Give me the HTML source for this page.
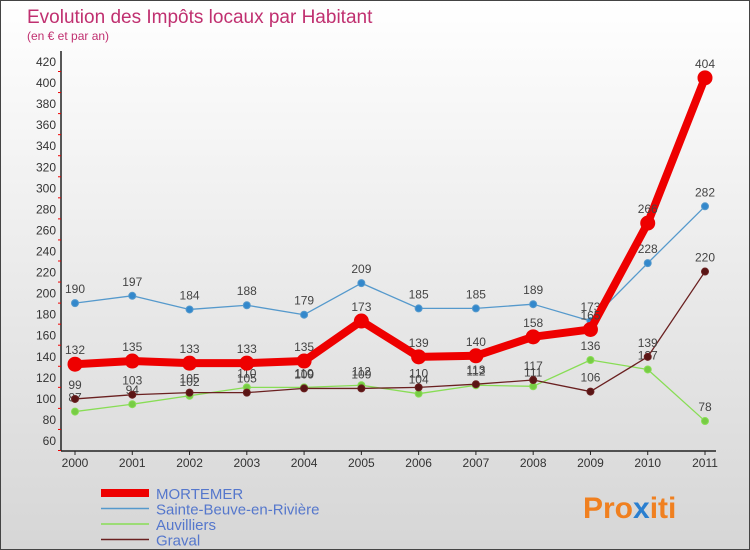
<!DOCTYPE html>
<html><head><meta charset="utf-8"><style>
body{margin:0}
#c{width:748px;height:548px;border:1px solid #444;background:linear-gradient(#fff,#d6d6d6);position:relative;font-family:"Liberation Sans",sans-serif;overflow:hidden}
</style></head><body>
<div id="c">
<svg width="748" height="548" id="s" style="position:absolute;left:0;top:0">
<text x="26" y="22" font-size="19" fill="#c03070">Evolution des Impôts locaux par Habitant</text>
<text x="26" y="39" font-size="12" fill="#c03070">(en € et par an)</text>
<text x="582" y="517" font-size="30" font-weight="bold" fill="#f08020">Pro<tspan fill="#2a7fd0">x</tspan>iti</text>
</svg>
</div>
<script>
const years=["2000","2001","2002","2003","2004","2005","2006","2007","2008","2009","2010","2011"];
const yTicks=[60,80,100,120,140,160,180,200,220,240,260,280,300,320,340,360,380,400,420];
const mortemer=[132,135,133,133,135,173,139,140,158,165,266,404];
const sainteBeuve=[190,197,184,188,179,209,185,185,189,173,228,282];
const auvilliers=[87,94,102,110,110,112,104,112,111,136,127,78];
const graval=[99,103,105,105,109,109,110,113,117,106,139,220];
const seriesNames=["MORTEMER","Sainte-Beuve-en-Rivière","Auvilliers","Graval"];
const NS="http://www.w3.org/2000/svg";
const s=document.getElementById('s');
const X=i=>74+i*(630/11);
const Y=v=>439-(v-60)*1.0528;
function mk(t,a){const e=document.createElementNS(NS,t);for(const k in a)e.setAttribute(k,a[k]);s.appendChild(e);return e;}
let e=mk('line',{x1:60,y1:50,x2:60,y2:450,stroke:'#222','stroke-width':1.5});


e=mk('line',{x1:60,y1:450,x2:715,y2:450,stroke:'#222','stroke-width':1.5});


yTicks.forEach(v=>{
 const t=mk('text',{x:55,y:Y(v)+5,'font-size':12,'text-anchor':'end',fill:'#333'});t.textContent=v;
 
 
 const m=mk('line',{x1:57,x2:60,y1:Y(v)+10.5,y2:Y(v)+10.5,stroke:'#e00'});
 
 
});
years.forEach((y,i)=>{
 const t=mk('text',{x:X(i),y:466,'font-size':12,'text-anchor':'middle',fill:'#333'});t.textContent=y;
 
 
 const m=mk('line',{x1:X(i),x2:X(i),y1:450,y2:454,stroke:'#222'});
 
 
});
function series(d,col,w,r,name,dot){
 const p=mk('polyline',{points:d.map((v,i)=>X(i)+','+Y(v)).join(' '),fill:'none',stroke:col,'stroke-width':w,'stroke-linejoin':'round'});
 
 
 d.forEach((v,i)=>{
  const c=mk('circle',{cx:X(i),cy:Y(v),r:r,fill:dot,stroke:col,'stroke-width':1});
  
  
  const t=mk('text',{x:X(i),y:Y(v)-10,'font-size':12,'text-anchor':'middle',fill:'#444'});t.textContent=v;
  
  
 });
}
series(auvilliers,'#88dd55',1.3,3.5,'auvilliers','#77cc44');
series(graval,'#6a2020',1.3,3.5,'graval','#5a1515');
series(sainteBeuve,'#5599cc',1.3,3.5,'sainte-beuve','#3388cc');
series(mortemer,'#ee0000',8,7,'mortemer','#ee0000');
const lc=['#ee0000','#5599cc','#88dd55','#6a2020'],lw=[8,1.5,1.5,1.5];
seriesNames.forEach((n,i)=>{
 const yy=492+i*15.5;
 const l=mk('line',{x1:100,x2:148,y1:yy,y2:yy,stroke:lc[i],'stroke-width':lw[i]});
 
 
 const t=mk('text',{x:155,y:yy+6,'font-size':15,fill:'#5577cc'});t.textContent=n;
 
 
});
</script>
</body></html>
